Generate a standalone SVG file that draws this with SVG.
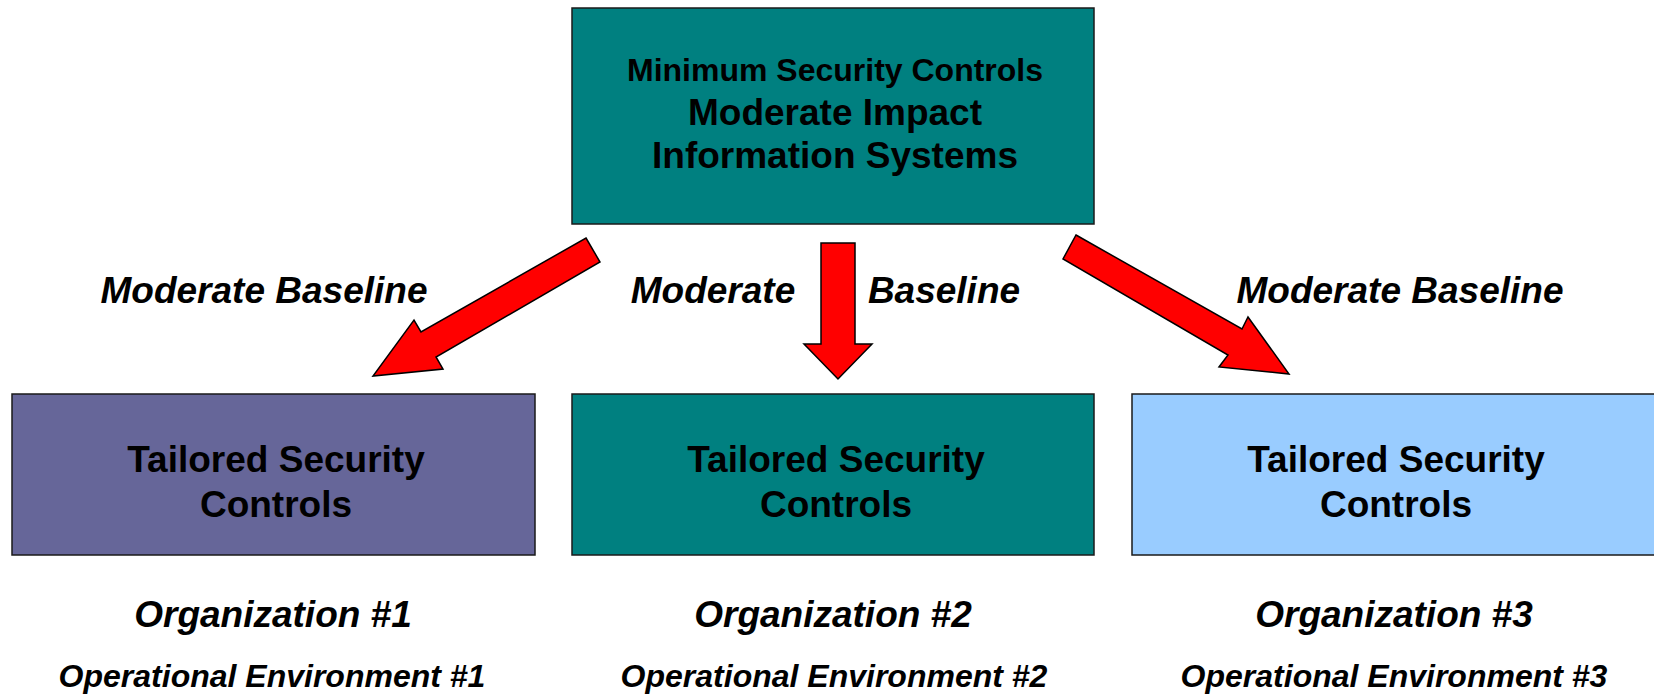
<svg xmlns="http://www.w3.org/2000/svg" width="1654" height="694" viewBox="0 0 1654 694">
<style>
  .box { stroke: #1a1a1a; stroke-width: 1.5; }
  .teal { fill: #008080; }
  .purple { fill: #666699; }
  .blue { fill: #99CCFF; }
  .arrow { fill: #FF0000; stroke: #000000; stroke-width: 1.5; stroke-linejoin: miter; }
  text { font-family: "Liberation Sans", Arial, sans-serif; font-weight: bold; fill: #000000; text-anchor: middle; }
  .t32 { font-size: 32px; }
  .t37 { font-size: 37px; }
  .it { font-style: italic; }
</style>
<rect x="0" y="0" width="1654" height="694" fill="#FFFFFF"/>
<g id="connectors">
  <polygon class="arrow" points="586,238 600,262 436,357 443,369 373,376 414,320 421,332"/>
  <polygon class="arrow" points="821,243 855,243 855,344 872,344 838,379 804,344 821,344"/>
  <polygon class="arrow" points="1076,235 1242,329 1248,317 1289,374 1219,367 1228,355 1063,259"/>
  <text class="t37 it" x="264" y="303">Moderate Baseline</text>
  <text class="t37 it" x="713" y="303">Moderate</text>
  <text class="t37 it" x="944" y="303">Baseline</text>
  <text class="t37 it" x="1400" y="303">Moderate Baseline</text>
</g>
<g id="top-node">
  <rect class="box teal" x="572" y="8" width="522" height="216"/>
  <text class="t32" x="835" y="81">Minimum Security Controls</text>
  <text class="t37" x="835" y="125">Moderate Impact</text>
  <text class="t37" x="835" y="168">Information Systems</text>
</g>
<g id="org1-node">
  <rect class="box purple" x="12" y="394" width="523" height="161"/>
  <text class="t37" x="276" y="472">Tailored Security</text>
  <text class="t37" x="276" y="517">Controls</text>
  <text class="t37 it" x="273" y="627">Organization #1</text>
  <text class="t32 it" x="272" y="687">Operational Environment #1</text>
</g>
<g id="org2-node">
  <rect class="box teal" x="572" y="394" width="522" height="161"/>
  <text class="t37" x="836" y="472">Tailored Security</text>
  <text class="t37" x="836" y="517">Controls</text>
  <text class="t37 it" x="833" y="627">Organization #2</text>
  <text class="t32 it" x="834" y="687">Operational Environment #2</text>
</g>
<g id="org3-node">
  <rect class="box blue" x="1132" y="394" width="523" height="161"/>
  <text class="t37" x="1396" y="472">Tailored Security</text>
  <text class="t37" x="1396" y="517">Controls</text>
  <text class="t37 it" x="1394" y="627">Organization #3</text>
  <text class="t32 it" x="1394" y="687">Operational Environment #3</text>
</g>
</svg>
